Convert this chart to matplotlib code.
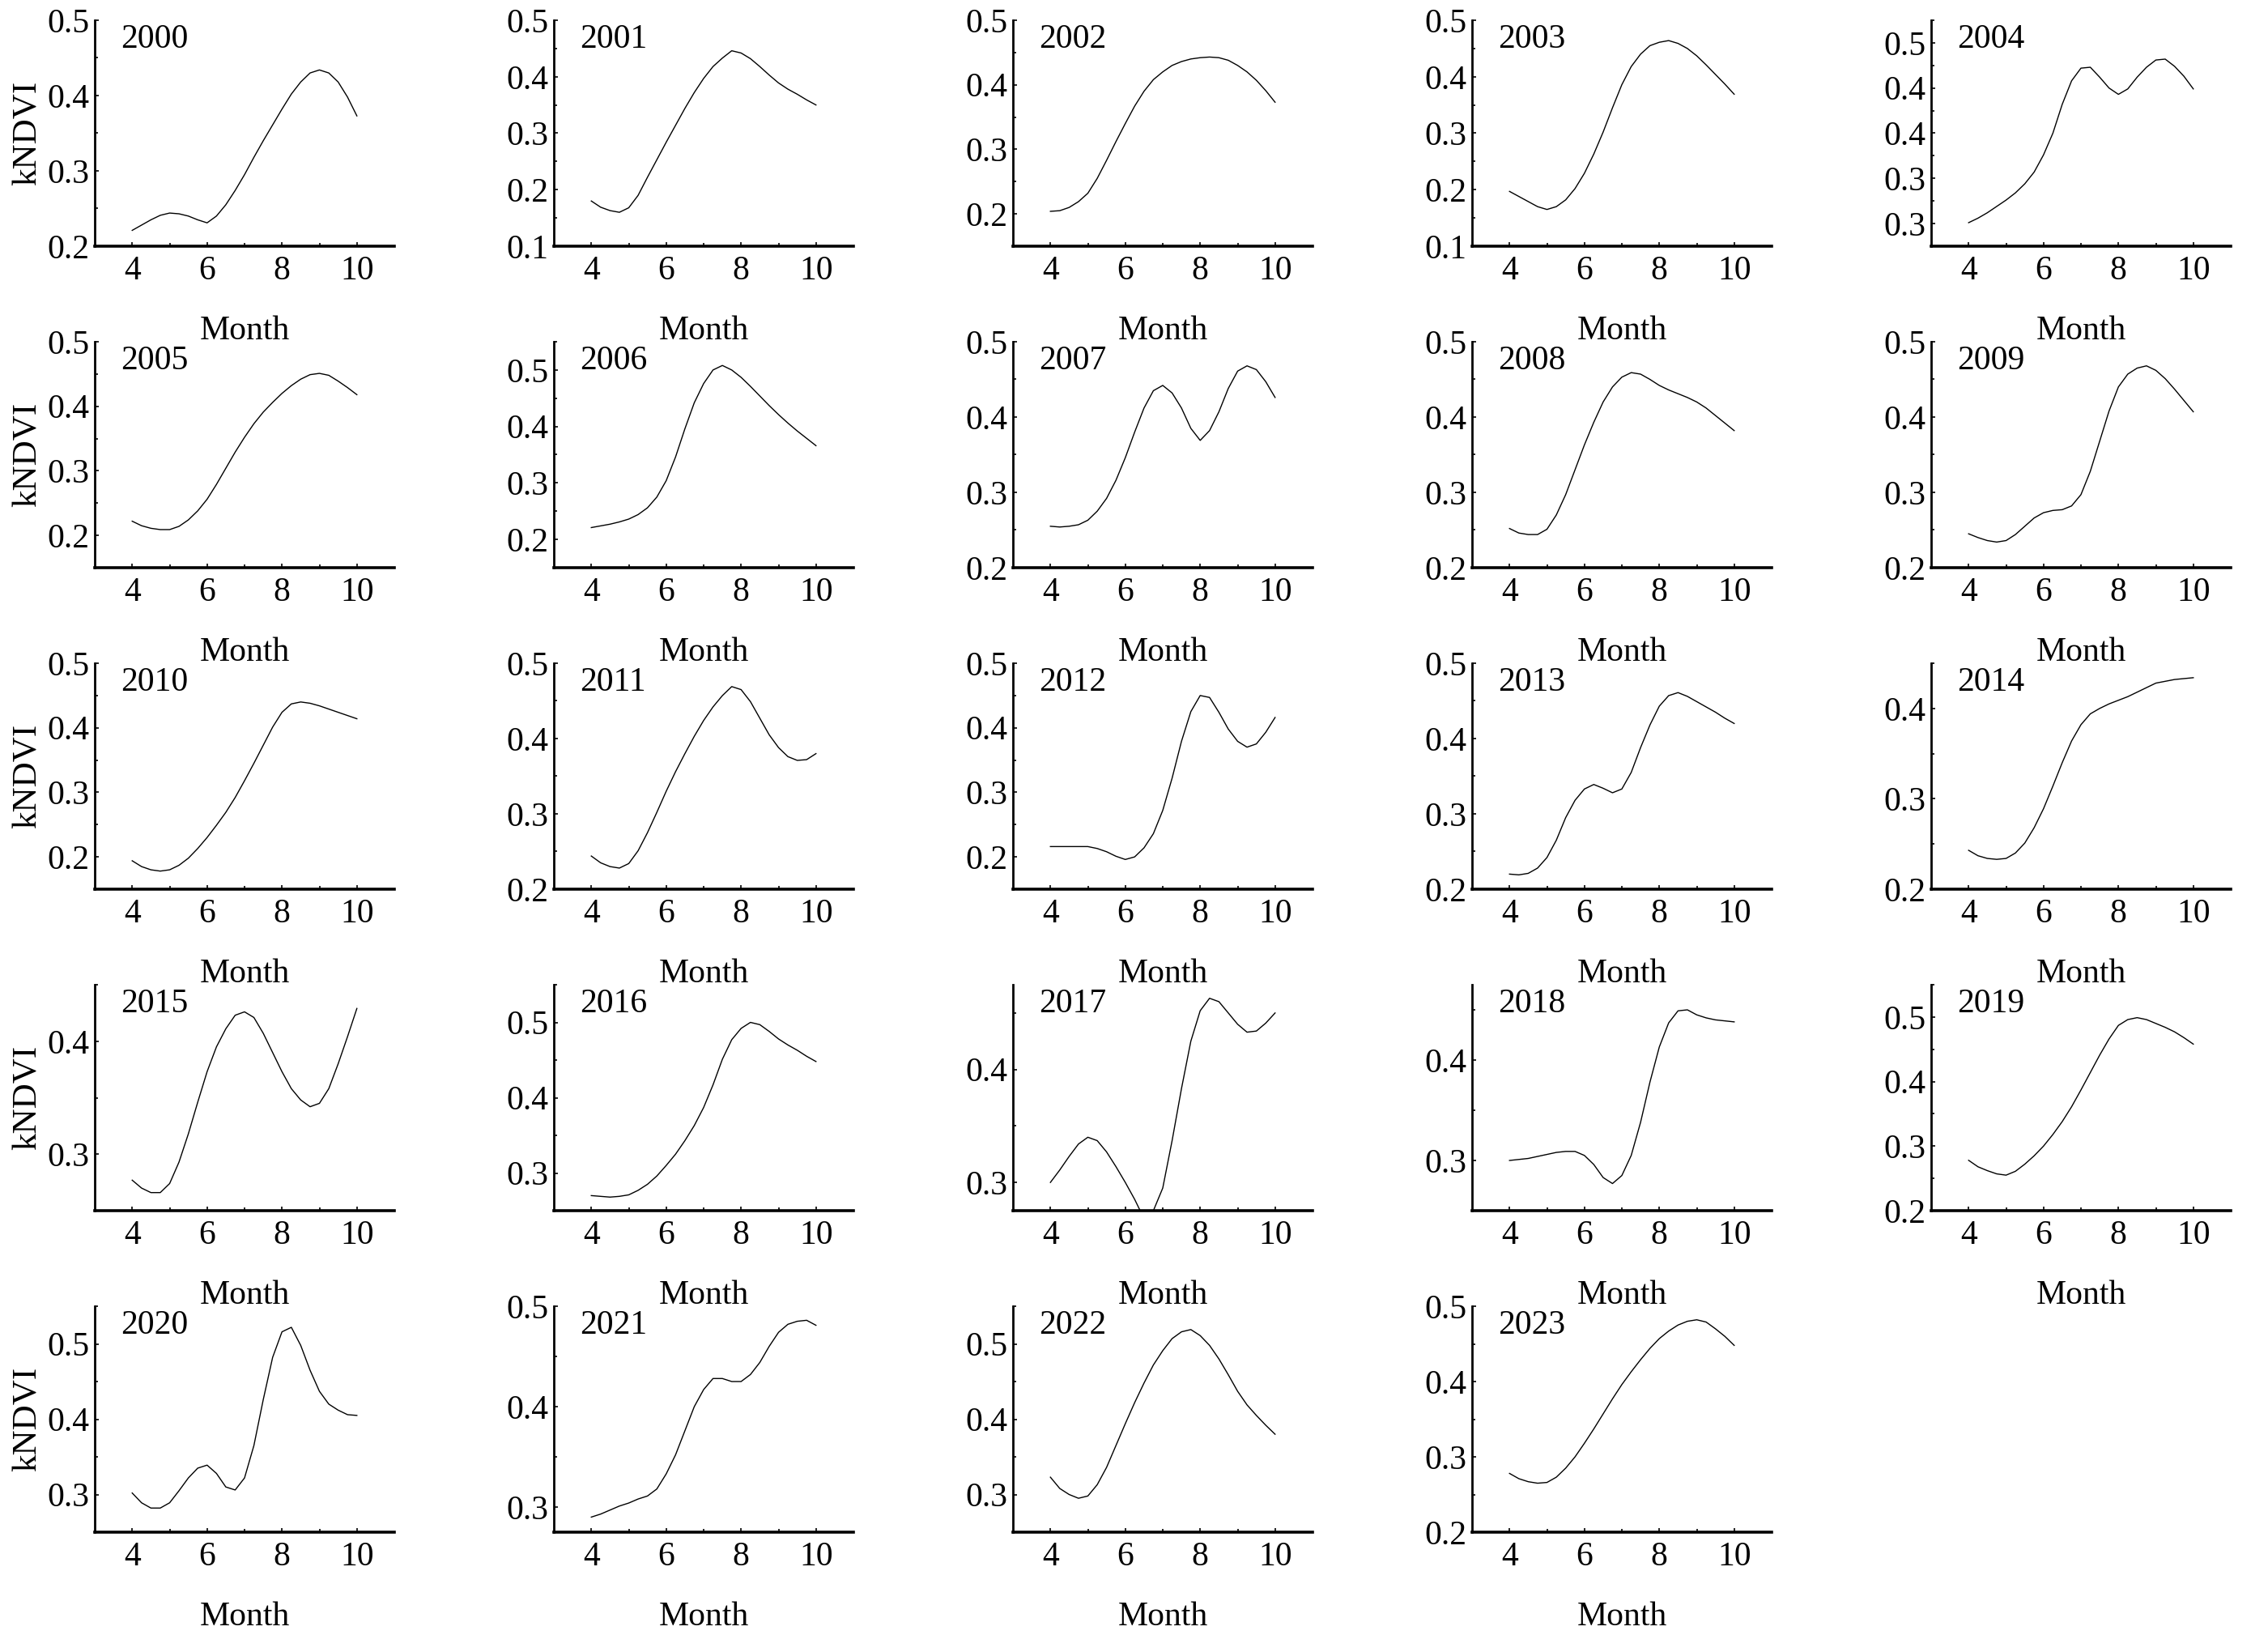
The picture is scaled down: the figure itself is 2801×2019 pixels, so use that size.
import matplotlib
matplotlib.use("Agg")
import matplotlib.pyplot as plt
from matplotlib.ticker import AutoMinorLocator

plt.rcParams['font.family'] = ['Liberation Serif', 'DejaVu Serif']

# kNDVI every quarter month, April to October
months = [4, 4.25, 4.5, 4.75, 5, 5.25, 5.5, 5.75, 6, 6.25, 6.5, 6.75, 7,
          7.25, 7.5, 7.75, 8, 8.25, 8.5, 8.75, 9, 9.25, 9.5, 9.75, 10]

v2000 = [0.221, 0.228, 0.235, 0.241, 0.244, 0.243, 0.240, 0.235, 0.231, 0.240, 0.255, 0.274, 0.295,
         0.318, 0.340, 0.361, 0.382, 0.402, 0.418, 0.430, 0.434, 0.430, 0.418, 0.398, 0.373]
v2001 = [0.180, 0.169, 0.163, 0.160, 0.168, 0.190, 0.222, 0.253, 0.284, 0.314, 0.344, 0.372, 0.397,
         0.418, 0.433, 0.446, 0.442, 0.432, 0.418, 0.403, 0.389, 0.378, 0.369, 0.359, 0.350]
v2002 = [0.204, 0.205, 0.210, 0.219, 0.232, 0.255, 0.283, 0.312, 0.340, 0.367, 0.390, 0.408, 0.420,
         0.430, 0.436, 0.440, 0.442, 0.443, 0.442, 0.438, 0.430, 0.420, 0.407, 0.391, 0.373]
v2003 = [0.197, 0.188, 0.179, 0.170, 0.165, 0.170, 0.182, 0.202, 0.229, 0.263, 0.302, 0.345, 0.386,
         0.418, 0.440, 0.455, 0.461, 0.464, 0.459, 0.450, 0.437, 0.421, 0.404, 0.387, 0.369]
v2004 = [0.301, 0.306, 0.312, 0.319, 0.326, 0.334, 0.344, 0.357, 0.376, 0.400, 0.432, 0.458, 0.472,
         0.473, 0.462, 0.450, 0.443, 0.449, 0.462, 0.473, 0.481, 0.482, 0.474, 0.463, 0.449]
v2005 = [0.222, 0.215, 0.211, 0.209, 0.209, 0.214, 0.224, 0.238, 0.256, 0.279, 0.304, 0.329, 0.352,
         0.373, 0.391, 0.406, 0.420, 0.432, 0.442, 0.449, 0.451, 0.448, 0.439, 0.429, 0.418]
v2006 = [0.221, 0.224, 0.227, 0.231, 0.236, 0.244, 0.256, 0.275, 0.304, 0.346, 0.396, 0.442, 0.476,
         0.500, 0.508, 0.500, 0.487, 0.471, 0.454, 0.437, 0.421, 0.406, 0.392, 0.379, 0.366]
v2007 = [0.255, 0.254, 0.255, 0.257, 0.263, 0.275, 0.292, 0.316, 0.346, 0.380, 0.412, 0.435, 0.442,
         0.432, 0.412, 0.385, 0.369, 0.382, 0.407, 0.438, 0.461, 0.468, 0.463, 0.447, 0.426]
v2008 = [0.252, 0.246, 0.244, 0.244, 0.251, 0.270, 0.297, 0.330, 0.363, 0.393, 0.420, 0.440, 0.453,
         0.459, 0.457, 0.450, 0.442, 0.436, 0.431, 0.426, 0.420, 0.412, 0.402, 0.392, 0.382]
v2009 = [0.245, 0.240, 0.236, 0.234, 0.236, 0.244, 0.255, 0.266, 0.273, 0.276, 0.277, 0.282, 0.297,
         0.328, 0.368, 0.408, 0.440, 0.457, 0.465, 0.468, 0.462, 0.451, 0.437, 0.422, 0.407]
v2010 = [0.194, 0.185, 0.180, 0.178, 0.180, 0.187, 0.198, 0.213, 0.230, 0.249, 0.269, 0.292, 0.318,
         0.345, 0.373, 0.401, 0.424, 0.437, 0.440, 0.438, 0.434, 0.429, 0.424, 0.419, 0.414]
v2011 = [0.244, 0.235, 0.230, 0.228, 0.234, 0.251, 0.275, 0.302, 0.330, 0.356, 0.380, 0.403, 0.424,
         0.442, 0.457, 0.469, 0.465, 0.449, 0.427, 0.405, 0.388, 0.376, 0.371, 0.372, 0.380]
v2012 = [0.216, 0.216, 0.216, 0.216, 0.216, 0.213, 0.208, 0.201, 0.196, 0.200, 0.214, 0.236, 0.272,
         0.322, 0.379, 0.425, 0.450, 0.447, 0.424, 0.398, 0.379, 0.370, 0.375, 0.393, 0.416]
v2013 = [0.220, 0.219, 0.221, 0.228, 0.242, 0.265, 0.295, 0.318, 0.333, 0.339, 0.334, 0.328, 0.333,
         0.355, 0.388, 0.418, 0.443, 0.457, 0.461, 0.456, 0.449, 0.442, 0.435, 0.427, 0.420]
v2014 = [0.243, 0.237, 0.234, 0.233, 0.234, 0.240, 0.251, 0.268, 0.289, 0.314, 0.340, 0.364, 0.382,
         0.394, 0.400, 0.405, 0.409, 0.413, 0.418, 0.423, 0.428, 0.430, 0.432, 0.433, 0.434]
v2015 = [0.277, 0.270, 0.266, 0.266, 0.274, 0.293, 0.318, 0.346, 0.373, 0.395, 0.411, 0.423, 0.426,
         0.421, 0.407, 0.390, 0.373, 0.358, 0.348, 0.342, 0.345, 0.358, 0.380, 0.404, 0.429]
v2016 = [0.270, 0.269, 0.268, 0.269, 0.271, 0.277, 0.285, 0.296, 0.310, 0.325, 0.343, 0.363, 0.387,
         0.417, 0.451, 0.477, 0.492, 0.500, 0.497, 0.488, 0.478, 0.470, 0.463, 0.455, 0.448]
v2017 = [0.300, 0.311, 0.323, 0.334, 0.340, 0.337, 0.327, 0.314, 0.300, 0.285, 0.268, 0.275, 0.295,
         0.337, 0.383, 0.425, 0.452, 0.463, 0.460, 0.450, 0.440, 0.433, 0.434, 0.441, 0.450]
v2018 = [0.300, 0.301, 0.302, 0.304, 0.306, 0.308, 0.309, 0.309, 0.305, 0.296, 0.283, 0.277, 0.285,
         0.305, 0.338, 0.378, 0.413, 0.437, 0.449, 0.450, 0.445, 0.442, 0.440, 0.439, 0.438]
v2019 = [0.278, 0.268, 0.262, 0.257, 0.255, 0.261, 0.272, 0.285, 0.300, 0.318, 0.338, 0.361, 0.387,
         0.414, 0.441, 0.466, 0.487, 0.496, 0.499, 0.496, 0.490, 0.484, 0.477, 0.468, 0.458]
v2020 = [0.302, 0.289, 0.282, 0.282, 0.289, 0.305, 0.322, 0.335, 0.339, 0.328, 0.310, 0.306, 0.322,
         0.365, 0.426, 0.482, 0.516, 0.522, 0.498, 0.465, 0.437, 0.420, 0.412, 0.406, 0.405]
v2021 = [0.290, 0.293, 0.297, 0.301, 0.304, 0.308, 0.311, 0.318, 0.333, 0.352, 0.376, 0.400, 0.417,
         0.428, 0.428, 0.425, 0.425, 0.432, 0.444, 0.460, 0.474, 0.482, 0.485, 0.486, 0.481]
v2022 = [0.323, 0.308, 0.300, 0.295, 0.298, 0.313, 0.336, 0.365, 0.394, 0.422, 0.448, 0.472, 0.491,
         0.507, 0.516, 0.519, 0.511, 0.498, 0.480, 0.459, 0.437, 0.419, 0.405, 0.392, 0.380]
v2023 = [0.278, 0.271, 0.267, 0.265, 0.266, 0.273, 0.285, 0.300, 0.318, 0.337, 0.357, 0.377, 0.396,
         0.413, 0.429, 0.444, 0.457, 0.467, 0.475, 0.480, 0.482, 0.479, 0.470, 0.460, 0.448]

years = list(range(2000, 2024))
series = [v2000, v2001, v2002, v2003, v2004, v2005, v2006, v2007, v2008, v2009,
          v2010, v2011, v2012, v2013, v2014, v2015, v2016, v2017, v2018, v2019,
          v2020, v2021, v2022, v2023]

# y range and major ticks of every panel
y_lims = [(0.2, 0.5), (0.1, 0.5), (0.15, 0.5), (0.1, 0.5), (0.275, 0.525),
          (0.15, 0.5), (0.15, 0.55), (0.2, 0.5), (0.2, 0.5), (0.2, 0.5),
          (0.15, 0.5), (0.2, 0.5), (0.15, 0.5), (0.2, 0.5), (0.2, 0.45),
          (0.25, 0.45), (0.25, 0.55), (0.275, 0.475), (0.25, 0.475), (0.2, 0.55),
          (0.25, 0.55), (0.275, 0.5), (0.25, 0.55), (0.2, 0.5)]
t15 = [0.1, 0.2, 0.3, 0.4, 0.5]
t25 = [0.2, 0.3, 0.4, 0.5]
t35 = [0.3, 0.4, 0.5]
y_ticks = [t25, t15, t25, t15, [0.30, 0.35, 0.40, 0.45, 0.50],
           t25, t25, t25, t25, t25,
           t25, t25, t25, t25, [0.2, 0.3, 0.4],
           [0.3, 0.4], t35, [0.3, 0.4], [0.3, 0.4], t25,
           t35, t35, t35, t25]
# 2004 panel prints its ticks rounded to one decimal
labels_2004 = ['0.3', '0.3', '0.4', '0.4', '0.5']

W, H = 2801, 2019
fig = plt.figure(figsize=(W / 100, H / 100), dpi=100)

fs = 30
for i, (year, vals) in enumerate(zip(years, series)):
    r, c = divmod(i, 5)
    left = (117 + 567 * c) / W
    bottom = 1 - (304 + 397 * r) / H
    ax = fig.add_axes([left, bottom, 370 / W, 279 / H])
    ax.plot(months, vals, color='black', lw=1.0)

    ax.set_xlim(3, 11)
    ax.set_ylim(*y_lims[i])
    ax.set_xticks([4, 6, 8, 10])
    ax.set_xticks([5, 7, 9], minor=True)
    ax.set_yticks(y_ticks[i])
    if year == 2004:
        ax.set_yticklabels(labels_2004)
    else:
        ax.set_yticklabels([f"{t:.1f}" for t in y_ticks[i]])
    ax.yaxis.set_minor_locator(AutoMinorLocator(2))

    ax.spines['top'].set_visible(False)
    ax.spines['right'].set_visible(False)
    ax.spines['left'].set_linewidth(2.0)
    ax.spines['bottom'].set_linewidth(2.6)
    ax.tick_params(which='both', direction='in', width=1.2, labelsize=fs)
    ax.tick_params(which='major', length=3.5)
    ax.tick_params(which='minor', length=3.0)
    ax.tick_params(axis='y', pad=5)
    ax.tick_params(axis='x', pad=8)

    ax.text(0.086, 0.985, str(year), transform=ax.transAxes,
            fontsize=fs, va='top', ha='left')
    ax.set_xlabel('Month', fontsize=fs, labelpad=26)
    if c == 0:
        ax.set_ylabel('kNDVI', fontsize=31, labelpad=3)

fig.savefig('out.png', dpi=100, facecolor='white')
